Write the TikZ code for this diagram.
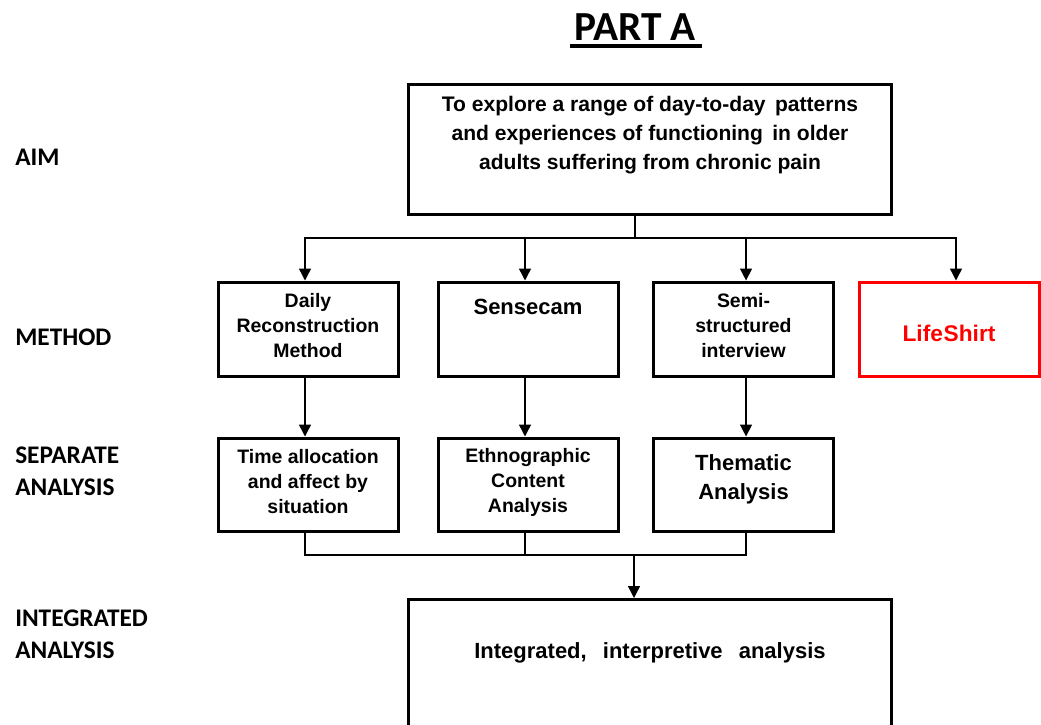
\documentclass[tikz,border=0pt]{standalone}
\usepackage{fontspec}
\setmainfont{Liberation Sans}
\newfontfamily\labelfont{Carlito}
\usetikzlibrary{arrows.meta}
\begin{document}
\begin{tikzpicture}[x=0.75pt,y=-0.75pt,
  box/.style={draw=black, line width=2.25pt, fill=white, inner sep=0pt},
  methodbox/.style={box, minimum width=135pt, minimum height=70.5pt},
  anabox/.style={box, minimum width=135pt, minimum height=69.75pt},
  widebox/.style={box, minimum width=362.25pt},
  smalltxt/.style={inner sep=0pt, align=center, font=\fontsize{14.6}{18.75}\selectfont\bfseries},
  bigtxt/.style={inner sep=0pt, align=center, font=\fontsize{16.5}{21.75}\selectfont\bfseries},
  aimtxt/.style={inner sep=0pt, align=center, font=\fontsize{15.8}{21.75}\selectfont\bfseries},
  rowlabel/.style={inner sep=0pt, anchor=west, align=left, font=\labelfont\fontsize{19}{24}\selectfont\bfseries},
  conn/.style={line width=1.1pt, draw=black},
  arrow/.style={conn, -{Triangle[width=9pt,length=9pt]}}
]
\useasboundingbox (0,0) rectangle (1041,724);
\clip (0,0) rectangle (1041,724);

% heading
\node[inner sep=0pt, font=\labelfont\fontsize{31}{36}\selectfont\bfseries] (title) at (635,27) {PART A};
\draw[line width=2.4pt] ([yshift=-4pt]title.south west -| 570,0) -- ([yshift=-4pt]title.south east -| 702,0);

% row labels
\node[rowlabel] (lAim) at (15,157) {AIM};
\node[rowlabel] (lMethod) at (15,337) {METHOD};
\node[rowlabel] (lSep) at (15,471) {SEPARATE\\ANALYSIS};
\node[rowlabel] (lInt) at (15,634) {INTEGRATED\\ANALYSIS};

% aim
\node[widebox, minimum height=97.5pt] (aim) at (650,149) {};
\node[aimtxt] (aimText) at (650,135.5) {To explore a range of day-to-day \,patterns\\and experiences of functioning \,in older\\adults suffering from chronic pain};

% methods
\node[methodbox] (m1) at (308,329) {};
\node[methodbox] (m2) at (528,329) {};
\node[methodbox] (m3) at (743.5,329) {};
\node[methodbox, draw=red] (m4) at (949,329) {};
\node[smalltxt] (m1Text) at (308,326) {Daily\\Reconstruction\\Method};
\node[bigtxt] (m2Text) at (528,307) {Sensecam};
\node[smalltxt] (m3Text) at (743.5,326) {Semi-\\structured\\interview};
\node[bigtxt, text=red, font=\fontsize{17}{21.75}\selectfont\bfseries] (m4Text) at (949,333) {Life\kern0.6pt Shirt};

% separate analyses
\node[anabox] (a1) at (308,484.5) {};
\node[anabox] (a2) at (528,484.5) {};
\node[anabox] (a3) at (743.5,484.5) {};
\node[smalltxt] (a1Text) at (308,482) {Time allocation\\and affect by\\situation};
\node[smalltxt] (a2Text) at (528,482) {Ethnographic\\Content\\Analysis};
\node[bigtxt] (a3Text) at (743.5,479.5) {Thematic\\Analysis};

% integrated analysis (runs past the lower edge)
\node[widebox, minimum height=150pt] (int) at (650,699.5) {};
\node[bigtxt] (intText) at (650,653) {Integrated,\hspace{7.5pt} interpretive\hspace{7.5pt} analysis};

% aim to methods
\coordinate (split) at (635,238);
\draw[conn] (aim.south -| split) -- (split);
\draw[arrow] (split) -| ([xshift=-2.25pt]m1.north);
\draw[arrow] (split) -| ([xshift=-2.25pt]m2.north);
\draw[arrow] (split) -| ([xshift=1.9pt]m3.north);
\draw[arrow] (split) -| ([xshift=5.25pt]m4.north);

% methods to analyses
\draw[arrow] ([xshift=-2.25pt]m1.south) -- ([xshift=-2.25pt]a1.north);
\draw[arrow] ([xshift=-2.25pt]m2.south) -- ([xshift=-2.25pt]a2.north);
\draw[arrow] ([xshift=1.9pt]m3.south) -- ([xshift=1.9pt]a3.north);

% analyses to integration
\coordinate (merge) at (634,555);
\draw[conn] ([xshift=-2.25pt]a1.south) |- (merge);
\draw[conn] ([xshift=-2.25pt]a2.south) |- (merge);
\draw[conn] ([xshift=1.9pt]a3.south) |- (merge);
\draw[arrow] (merge) -- (merge |- int.north);
\end{tikzpicture}
\end{document}
